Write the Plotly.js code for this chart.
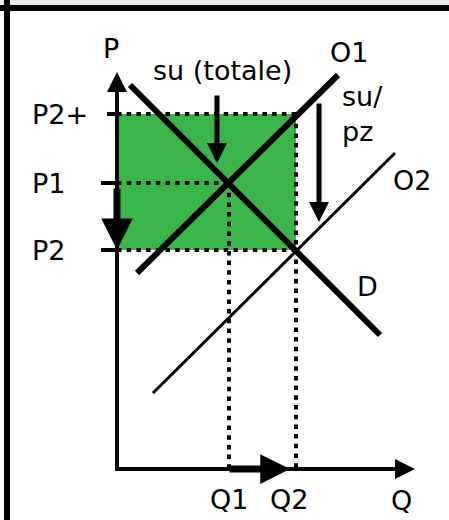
<!DOCTYPE html>
<html>
<head>
<meta charset="utf-8">
<script src="https://cdn.plot.ly/plotly-3.0.1.min.js"></script>
<style>
  html, body { margin: 0; padding: 0; background: #fff; }
  #chart { width: 449px; height: 520px; }
</style>
</head>
<body>
<div id="chart"></div>
<script>
// price levels on the P axis
const priceLabels = ['P2+', 'P1', 'P2'];
const priceLevels = [35.5, 28.6, 21.9];

// quantity levels on the Q axis
const qtyLabels = ['Q1', 'Q2'];
const qtyLevels = [11.2, 17.9];

// demand D and the two supply curves O1 / O2 (end points)
const demandQ = [1.3, 26.3];
const demandP = [38.4, 13.4];
const supply1Q = [2.0, 22.1];
const supply1P = [19.6, 39.4];
const supply2Q = [3.6, 27.8];
const supply2P = [7.6, 31.6];

// subsidy arrows: x, tail y, head y
const subsidyTotalArrow = [10.0, 37.4, 30.6];
const subsidyUnitArrow = [20.2, 36.6, 24.7];

const [pPlus, p1, p2] = priceLevels;
const [q1, q2] = qtyLevels;

const black = '#000';
const traces = [];

// green area = total subsidy
traces.push({
    type: 'scatter',
    mode: 'lines',
    x: [0, q2, q2, 0, 0],
    y: [p2, p2, pPlus, pPlus, p2],
    fill: 'toself',
    fillcolor: '#3ab54a',
    line: { width: 0, color: '#3ab54a' },
    hoverinfo: 'skip'
});

// dotted guide lines
const dotted = { color: black, width: 4, dash: '4.5px,5.2px' };
function guide(x, y) {
    traces.push({ type: 'scatter', mode: 'lines', x: x, y: y, line: dotted, hoverinfo: 'skip' });
}
guide([0, q2], [pPlus, pPlus]);
guide([0, q1], [p1, p1]);
guide([0, q2], [p2, p2]);
guide([q1, q1], [p1, 0]);
guide([q2, q2], [pPlus, 0]);

// small ticks left of the P axis
priceLevels.forEach((p, i) => {
    traces.push({
        type: 'scatter', mode: 'lines',
        x: [i === 0 ? -1.0 : -1.6, 0], y: [p, p],
        line: { color: black, width: 4 }, hoverinfo: 'skip'
    });
});

// curves
traces.push({ type: 'scatter', mode: 'lines', x: demandQ, y: demandP, line: { color: black, width: 6 } });
traces.push({ type: 'scatter', mode: 'lines', x: supply1Q, y: supply1P, line: { color: black, width: 6 } });
traces.push({ type: 'scatter', mode: 'lines', x: supply2Q, y: supply2P, line: { color: black, width: 3 } });

function arrow(x, y, ax, ay, width, size) {
    return {
        x: x, y: y, ax: ax, ay: ay,
        xref: 'x', yref: 'y', axref: 'x', ayref: 'y',
        text: '', showarrow: true, arrowhead: 2,
        arrowwidth: width, arrowsize: size, arrowcolor: black,
        standoff: 0, borderpad: 0
    };
}

const font = { family: 'DejaVu Sans', size: 27, color: black };
function label(text, x, y, extra) {
    return Object.assign({
        text: text, x: x, y: y, xref: 'x', yref: 'y',
        showarrow: false, font: font, xanchor: 'center', yanchor: 'middle'
    }, extra || {});
}

const annotations = [
    // axes
    arrow(0, 39.7, 0, -0.2, 4, 1),
    arrow(29.8, 0, -0.2, 0, 4, 1),
    // price drop P1 -> P2 and quantity rise Q1 -> Q2
    arrow(0, p2, 0, p1 - 0.5, 7, 0.9),
    arrow(q2 - 0.6, 0, q1, 0, 7, 0.85),
    // subsidy arrows
    arrow(subsidyTotalArrow[0], subsidyTotalArrow[2], subsidyTotalArrow[0], subsidyTotalArrow[1], 5, 0.8),
    arrow(subsidyUnitArrow[0], subsidyUnitArrow[2], subsidyUnitArrow[0], subsidyUnitArrow[1], 5, 0.8),
    // axis titles
    label('P', -0.6, 42.1),
    label('Q', 28.4, -3.1),
    // curve labels
    label('O1', 23.2, 41.7),
    label('O2', 29.5, 28.9),
    label('D', 25.0, 18.3),
    label('su (totale)', 10.5, 39.9),
    label('su/<br>pz', 22.25, 35.5, { xanchor: 'left', align: 'left' })
];

priceLabels.forEach((t, i) => {
    annotations.push(label(t, -8.7, priceLevels[i], { xanchor: 'left' }));
});
qtyLabels.forEach((t, i) => {
    annotations.push(label(t, qtyLevels[i] - (i === 1 ? 0.7 : 0), -3.0));
});

const layout = {
    width: 449,
    height: 520,
    autosize: false,
    margin: { l: 0, r: 0, t: 0, b: 0, pad: 0 },
    paper_bgcolor: '#fff',
    plot_bgcolor: '#fff',
    showlegend: false,
    xaxis: { range: [-11.7, 33.2], visible: false, fixedrange: true },
    yaxis: { range: [-5.1, 46.9], visible: false, fixedrange: true },
    annotations: annotations,
    shapes: [
        // frame of the original slide
        { type: 'rect', xref: 'paper', yref: 'paper', x0: 0, x1: 1, y0: 1 - 5 / 520, y1: 1,
          fillcolor: '#ebebeb', line: { width: 0 } },
        { type: 'rect', xref: 'paper', yref: 'paper', x0: 0, x1: 1, y0: 1 - 11 / 520, y1: 1 - 5 / 520,
          fillcolor: black, line: { width: 0 } },
        { type: 'rect', xref: 'paper', yref: 'paper', x0: 4 / 449, x1: 10 / 449, y0: 0, y1: 1,
          fillcolor: black, line: { width: 0 } }
    ]
};

Plotly.newPlot('chart', traces, layout, { displayModeBar: false, staticPlot: true });
</script>
</body>
</html>
